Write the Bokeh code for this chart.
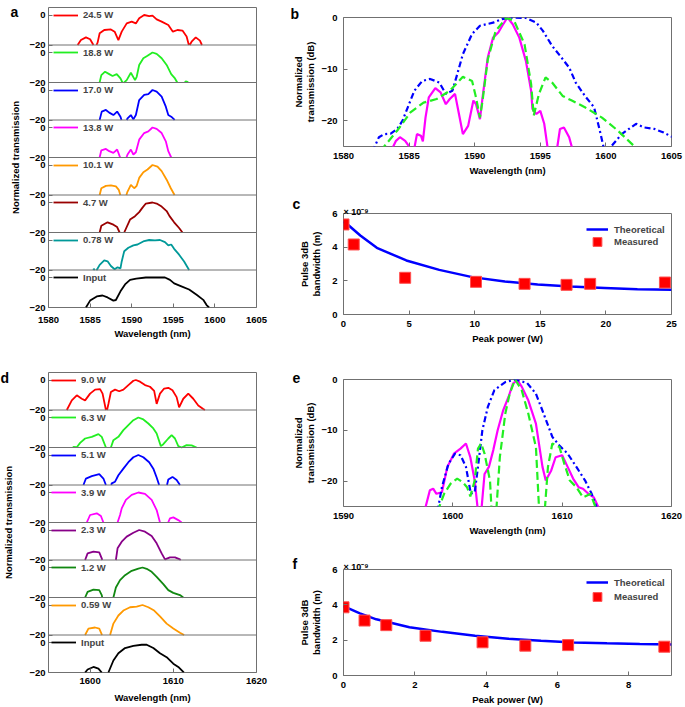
import numpy as np
from bokeh.plotting import figure
from bokeh.models import Range1d, FixedTicker, Span, Legend, LegendItem, Label
from bokeh.layouts import row, column
from bokeh.embed import file_html
from bokeh.resources import INLINE

# ------------------------------------------------------------------ data
# panel a : spectra (wavelength nm, normalized transmission dB), top -> bottom
a_labels = ["24.5 W", "18.8 W", "17.0 W", "13.8 W", "10.1 W", "4.7 W", "0.78 W", "Input"]
a_colors = ["#ff0000", "#22ee22", "#0000ff", "#ff00ff", "#ff9900", "#990000", "#009999", "#000000"]
a1_wl = [1583.3, 1583.5, 1583.9, 1584.5, 1585.0, 1585.4, 1585.65, 1585.9, 1586.15, 1586.7, 1587.5, 1587.95, 1588.4, 1588.8, 1589.4, 1590.0, 1590.5, 1590.9, 1591.5, 1592.1, 1592.5, 1593.0, 1593.6, 1594.4, 1594.95, 1595.5, 1596.1, 1596.6, 1596.9, 1597.2, 1597.7, 1598.2, 1598.5]
a1_db = [-22, -20, -16.7, -14.9, -16.2, -20, -21.5, -18.4, -12.2, -10, -9.6, -11.1, -16.7, -11.1, -5.6, -4.4, -5.6, -2.2, 0, -0.7, -0.4, -2.9, -4.4, -6.7, -11.1, -10, -10.4, -14.4, -20.7, -17.8, -14.9, -17.1, -20.7]
a2_wl = [1586.1, 1586.35, 1586.8, 1587.3, 1587.7, 1588.2, 1588.65, 1588.95, 1589.4, 1589.9, 1590.4, 1590.6, 1590.9, 1591.4, 1591.9, 1592.5, 1593.0, 1593.6, 1594.2, 1594.75, 1595.2, 1595.5, 1595.8, 1596.3, 1596.5, 1596.7, 1596.9]
a2_db = [-21, -15.1, -12.8, -14.4, -15.7, -14.4, -17.3, -20.7, -18.4, -13.5, -18.4, -16.2, -8.3, -3.8, -2.2, 0, -0.9, -3.8, -8.3, -14.4, -17.3, -20.2, -21.5, -20.5, -19.2, -19.5, -21]
a3_wl = [1586.1, 1586.4, 1586.9, 1587.3, 1587.8, 1588.25, 1588.65, 1588.8, 1589.3, 1589.5, 1589.9, 1590.2, 1590.5, 1590.9, 1591.5, 1592.0, 1592.5, 1593.0, 1593.6, 1594.1, 1594.4, 1594.75, 1595.1, 1595.3]
a3_db = [-21, -14.4, -13.3, -15.1, -16.7, -14.4, -17.8, -20.4, -21, -18.9, -16.7, -19.6, -16.7, -6.7, -3.3, -2.7, 0, -1.1, -4.4, -11.1, -16.7, -17.8, -19.6, -21]
a4_wl = [1586.1, 1586.35, 1586.9, 1587.3, 1587.8, 1588.25, 1588.55, 1588.7, 1589.3, 1589.5, 1589.9, 1590.2, 1590.5, 1590.9, 1591.5, 1592.0, 1592.5, 1593.0, 1593.6, 1594.1, 1594.4, 1594.75, 1594.9]
a4_db = [-21, -15.2, -14.3, -15.8, -16.9, -14.7, -19.1, -21, -21, -18.0, -14.7, -18.0, -16.5, -8.1, -3.7, -2.6, 0, -0.9, -3.7, -9.2, -15.8, -20, -21]
a5_wl = [1586.1, 1586.35, 1586.9, 1587.5, 1588.1, 1588.45, 1588.65, 1588.8, 1589.3, 1589.5, 1589.9, 1590.3, 1590.6, 1590.9, 1591.4, 1591.9, 1592.5, 1593.1, 1593.6, 1594.2, 1594.7, 1595.15, 1595.3]
a5_db = [-21, -15.5, -13.9, -13.6, -14.3, -16.6, -20.2, -21, -21, -17.7, -13.2, -15.5, -13.9, -8.6, -4.8, -3.0, 0, -1.1, -4.1, -9.8, -15.5, -20, -21]
a6_wl = [1586.1, 1586.35, 1587.1, 1587.8, 1588.25, 1588.55, 1588.7, 1588.95, 1589.1, 1589.8, 1590.4, 1590.9, 1591.3, 1591.7, 1592.5, 1593.0, 1593.6, 1594.2, 1594.55, 1595.1, 1595.7, 1596.1, 1596.2]
a6_db = [-21, -15.5, -13.2, -14.8, -16.4, -20, -21, -21, -20, -11.4, -9.1, -6.4, -3.4, -0.7, 0, -0.7, -2.7, -5.7, -9.1, -13.2, -17.0, -20, -21]
a7_wl = [1585.3, 1585.45, 1585.65, 1585.85, 1586.15, 1586.7, 1587.1, 1587.5, 1587.95, 1588.3, 1588.65, 1588.8, 1589.1, 1589.6, 1590.2, 1590.7, 1591.5, 1592.1, 1592.8, 1593.4, 1594.0, 1594.4, 1594.75, 1595.1, 1595.7, 1596.3, 1596.9, 1597.0]
a7_db = [-21, -19.3, -20.5, -19.5, -16.6, -13.6, -14.2, -17.3, -19.5, -18.2, -18.9, -14.3, -7.5, -5.2, -3.6, -3.0, -0.7, 0, -0.2, 0, -1.4, -3.6, -3.0, -5.9, -9.8, -14.3, -20, -21]
a8_wl = [1584.4, 1584.5, 1585.0, 1585.8, 1586.5, 1587.1, 1587.8, 1588.1, 1588.65, 1589.2, 1589.8, 1590.55, 1591.7, 1592.85, 1594.0, 1594.6, 1595.1, 1595.9, 1596.9, 1597.8, 1598.6, 1599.0, 1599.3, 1599.4]
a8_db = [-21, -20, -15.4, -12.6, -12, -13.3, -15.4, -15, -9.2, -4.6, -1.6, -0.7, 0, 0, 0, -1.6, -3.9, -5.7, -8.0, -11.5, -14.9, -18.4, -20, -21]
a_ticks = [1580, 1585, 1590, 1595, 1600, 1605]

# panel d
d_labels = ["9.0 W", "6.3 W", "5.1 W", "3.9 W", "2.3 W", "1.2 W", "0.59 W", "Input"]
d_colors = ["#ff0000", "#22ee22", "#0000ff", "#ff00ff", "#880088", "#118811", "#ff9900", "#000000"]
d1_wl = [1597.1, 1597.2, 1597.8, 1598.4, 1599.0, 1599.4, 1600.0, 1600.6, 1601.2, 1601.5, 1601.9, 1602.0, 1602.2, 1602.5, 1603.0, 1603.5, 1604.0, 1604.6, 1605.2, 1605.5, 1606.0, 1606.6, 1607.2, 1607.7, 1608.0, 1608.4, 1608.9, 1609.4, 1609.9, 1610.4, 1610.7, 1611.2, 1611.8, 1612.4, 1613.0, 1613.6, 1613.8]
d1_db = [-21, -20, -13.6, -10.2, -12.5, -13.6, -9.1, -6.4, -6.1, -9.1, -20, -21, -16, -8, -6.4, -7.5, -6.4, -3.4, -0.5, 0, -1.1, -3.4, -4.5, -7.3, -15.9, -9.1, -5.7, -5.2, -6.8, -11.4, -18.2, -12.5, -9.1, -12.5, -17, -19.3, -20]
d2_wl = [1597.9, 1598.0, 1598.4, 1598.8, 1599.4, 1600.2, 1601.0, 1601.4, 1601.9, 1602.0, 1602.4, 1602.5, 1602.8, 1603.4, 1604.0, 1604.6, 1605.2, 1605.8, 1606.4, 1607.0, 1607.6, 1608.0, 1608.5, 1608.8, 1609.4, 1609.8, 1610.2, 1610.6, 1611.0, 1611.6, 1612.2, 1612.8]
d2_db = [-21, -19.6, -19.8, -16.9, -14, -12.9, -11.1, -12.9, -20, -21, -21, -20, -15.1, -12.9, -8.4, -5.1, -1.8, 0, -1.3, -4, -7.3, -10.7, -19.1, -17.8, -14, -11.8, -14, -19.1, -20, -18.4, -18.6, -20]
d3_wl = [1599.1, 1599.2, 1599.5, 1600.2, 1601.1, 1601.6, 1601.9, 1602.0, 1602.5, 1602.6, 1603.0, 1603.4, 1604.0, 1604.6, 1605.2, 1605.8, 1606.4, 1607.1, 1607.6, 1608.0, 1608.3, 1608.4, 1609.2, 1609.4, 1609.9, 1610.4, 1610.8, 1610.9]
d3_db = [-21, -20, -15.7, -14.1, -12.8, -15.7, -20, -21, -21, -18.9, -17.8, -13.5, -9.1, -4.8, -1.5, 0, -1.5, -4.8, -9.1, -15, -20, -21, -21, -16.3, -14.6, -16.7, -20, -21]
d4_wl = [1599.5, 1599.6, 1600.0, 1600.8, 1601.3, 1601.6, 1601.7, 1603.2, 1603.3, 1603.6, 1603.8, 1604.3, 1605.0, 1605.8, 1606.6, 1607.4, 1608.0, 1608.4, 1608.5, 1609.3, 1609.6, 1610.0, 1610.6, 1611.0, 1611.1]
d4_db = [-21, -20, -15, -13.9, -15.7, -20, -21, -21, -20, -15, -10.6, -4.9, -1.6, 0, -0.9, -4.9, -11.7, -20, -21, -21, -17.3, -16.6, -18.4, -20, -21]
d5_wl = [1599.3, 1599.4, 1599.7, 1600.4, 1601.1, 1601.4, 1601.5, 1603.0, 1603.1, 1603.3, 1603.8, 1604.4, 1605.2, 1605.9, 1606.6, 1607.4, 1608.0, 1608.6, 1609.0, 1609.6, 1610.2, 1610.8, 1611.1]
d5_db = [-21, -20, -15.6, -14.4, -14.9, -18.9, -21, -21, -20, -12.2, -7.8, -4.4, -1.8, 0, -1.1, -4, -8.9, -15.6, -19.6, -18.2, -18.2, -19.6, -21]
d6_wl = [1599.3, 1599.4, 1599.7, 1600.4, 1601.1, 1601.4, 1601.5, 1602.7, 1602.8, 1603.1, 1603.6, 1604.2, 1605.0, 1605.8, 1606.3, 1606.8, 1607.4, 1608.0, 1608.8, 1609.4, 1610.0, 1610.8, 1611.2, 1611.3]
d6_db = [-21, -20, -16.2, -14.7, -15.1, -18.4, -21, -21, -20, -13.3, -8.4, -5.1, -2.2, -0.7, 0, -0.9, -2.9, -6.2, -11.1, -15.1, -16.9, -18.4, -20, -21]
d7_wl = [1599.3, 1599.4, 1599.8, 1600.6, 1601.1, 1601.35, 1601.5, 1602.3, 1602.4, 1602.8, 1603.4, 1604.0, 1604.8, 1605.6, 1606.3, 1607.0, 1607.7, 1608.4, 1609.2, 1610.0, 1610.8, 1611.3, 1611.4]
d7_db = [-21, -20, -15.7, -15, -15.7, -18.9, -21, -21, -20, -12.4, -7, -3.7, -1.5, -1.1, 0, -1.5, -3.7, -7.6, -12.4, -15.7, -18.5, -20, -21]
d8_wl = [1599.3, 1599.4, 1599.7, 1600.4, 1601.0, 1601.4, 1601.5, 1602.1, 1602.2, 1602.8, 1603.4, 1604.2, 1605.2, 1606.2, 1606.8, 1607.6, 1608.4, 1609.2, 1610.0, 1610.6, 1611.2, 1611.4]
d8_db = [-21, -20, -18, -16.3, -17.4, -20, -21, -21, -20, -12, -7.2, -3.7, -2.2, -1.5, -1.5, -3.7, -7.2, -9.8, -14.1, -16.3, -19.6, -21]
d_ticks = [1600, 1610, 1620]

# panel b
b_blue_wl = [1582.2, 1582.7, 1583.1, 1583.6, 1584.1, 1584.5, 1584.9, 1585.4, 1586.0, 1586.6, 1587.3, 1587.8, 1588.3, 1588.6, 1589.1, 1589.8, 1590.4, 1591.4, 1592.1, 1592.9, 1593.9, 1594.7, 1595.2, 1595.9, 1596.5, 1597.2, 1597.7, 1598.4, 1599.1, 1599.6, 1599.9, 1600.3, 1600.4, 1601.2, 1602.3, 1602.9, 1603.7, 1604.4, 1605.1]
b_blue_db = [-26, -23.2, -22.6, -22.5, -21.6, -20, -17.4, -14.2, -12.3, -11.9, -12.6, -14.8, -14.2, -11.6, -7.1, -3.2, -1.6, -1.0, -0.3, 0, -0.1, -1.0, -2.6, -5.5, -7.4, -9.7, -12.6, -15.2, -17.4, -22.6, -26, -26, -25, -22.6, -20.6, -21.3, -21.6, -22.3, -23.2]
b_green_wl = [1582.9, 1583.1, 1584.1, 1585.1, 1586.1, 1587.1, 1588.1, 1589.1, 1589.8, 1590.1, 1590.4, 1590.6, 1591.0, 1591.6, 1592.4, 1593.0, 1593.8, 1594.3, 1594.5, 1594.9, 1595.4, 1595.9, 1596.7, 1597.4, 1598.4, 1599.7, 1600.9, 1602.1, 1602.3]
b_green_db = [-26, -25, -21.9, -18.4, -16.5, -15.8, -14.2, -11.5, -12.3, -15.5, -19.4, -16.1, -8.1, -2.6, -0.1, -0.6, -5.2, -12.9, -19.0, -14.8, -11.6, -12.6, -15.2, -16.1, -17.4, -19.4, -21.9, -24.8, -26]
b_mag_wl = [1583.6, 1584.0, 1584.3, 1584.7, 1585.0, 1585.1, 1585.35, 1585.6, 1585.9, 1586.05, 1586.25, 1586.5, 1587.0, 1587.4, 1587.8, 1588.1, 1588.5, 1588.8, 1589.1, 1589.5, 1589.9, 1590.1, 1590.4, 1590.6, 1591.0, 1591.4, 1591.8, 1592.1, 1592.5, 1592.9, 1593.4, 1593.9, 1594.3, 1594.4, 1594.7, 1595.0, 1595.3, 1595.6, 1596.2, 1596.3, 1596.5, 1596.8, 1597.2, 1597.5]
b_mag_db = [-26, -23.9, -23.2, -23.9, -25, -26, -26, -22.6, -22.9, -24, -19.4, -15.5, -13.7, -14.5, -16.8, -15.8, -14.8, -18.7, -22.6, -21, -16.1, -16.8, -19.7, -15.5, -7.7, -3.9, -2.9, -1.6, 0, -1.3, -3.9, -8.4, -14.2, -17.7, -18.7, -18.1, -20.6, -26, -26, -25, -21.6, -21.3, -23.2, -26]
b_xticks = [1580, 1585, 1590, 1595, 1600, 1605]

# panel e
e_blue_wl = [1598.6, 1599.0, 1599.6, 1600.2, 1600.7, 1601.2, 1601.65, 1602.0, 1602.3, 1602.7, 1603.2, 1603.8, 1604.8, 1605.7, 1606.8, 1607.6, 1608.3, 1609.1, 1609.75, 1610.5, 1611.3, 1612.1, 1612.7, 1613.3]
e_blue_db = [-26, -21.2, -16.6, -14.6, -14.9, -17.2, -22.5, -22.2, -17.2, -10, -5.4, -2.1, -0.5, 0, -0.7, -2.8, -6.7, -11.3, -13, -14.6, -17.2, -19.9, -22.5, -26]
e_green_wl = [1598.6, 1599.2, 1599.8, 1600.4, 1600.9, 1601.3, 1601.6, 1602.0, 1602.3, 1602.6, 1602.9, 1603.4, 1603.55, 1603.9, 1604.0, 1604.3, 1604.8, 1605.2, 1605.7, 1606.3, 1606.9, 1607.6, 1607.9, 1608.4, 1608.7, 1609.1, 1609.75, 1610.2, 1610.7, 1611.3, 1611.9, 1612.6, 1613.2]
e_green_db = [-26, -22.5, -20.5, -19.5, -20.2, -21.2, -23, -19.9, -13.6, -12.6, -14.6, -19.9, -26, -26, -25, -15.3, -6.7, -2.8, 0, -2.1, -6.7, -13.3, -26, -26, -17.2, -12.6, -13.3, -16.6, -19.9, -21.2, -23.2, -22.5, -26]
e_mag_wl = [1597.4, 1597.9, 1598.2, 1598.5, 1599.0, 1599.5, 1600.1, 1600.7, 1601.2, 1601.6, 1602.0, 1602.3, 1602.6, 1602.9, 1603.3, 1603.7, 1604.1, 1604.6, 1605.1, 1605.5, 1605.9, 1606.3, 1606.9, 1607.6, 1608.2, 1608.5, 1609.0, 1609.4, 1610.0, 1610.5, 1611.0, 1611.5, 1611.9, 1612.4, 1612.9, 1613.5]
e_mag_db = [-26, -21.8, -21.5, -22.5, -22.2, -17.2, -14.6, -13.6, -12.6, -15.3, -19.9, -26, -26, -18.6, -17.2, -13.9, -10, -6.1, -3.4, -0.8, -0.1, -1.4, -4.1, -8.7, -17.2, -19.9, -17.9, -15.3, -14.9, -17.2, -19.5, -21.2, -21.5, -22.5, -23.2, -26]
e_xticks = [1590, 1600, 1610, 1620]
spec_yticks = [-20, -10, 0]

# panel c (bandwidth in units of 1e-9 m)
c_power = [0, 0.78, 4.7, 10.1, 13.8, 17.0, 18.8, 24.5]
c_bw = [5.35, 4.16, 2.18, 1.94, 1.82, 1.76, 1.82, 1.90]
c_th_p = [0, 0.25, 1.28, 2.54, 4.79, 7.3, 9.81, 12.3, 14.8, 17.3, 19.9, 22.4, 25]
c_th_bw = [5.5, 5.39, 4.69, 3.96, 3.21, 2.65, 2.22, 1.96, 1.78, 1.66, 1.58, 1.50, 1.47]
c_xticks = [0, 5, 10, 15, 20, 25]

# panel f
f_power = [0, 0.59, 1.2, 2.3, 3.9, 5.1, 6.3, 9.0]
f_bw = [3.86, 3.11, 2.85, 2.25, 1.88, 1.69, 1.72, 1.63]
f_th_p = [0, 0.46, 0.92, 1.85, 2.77, 3.69, 4.62, 5.54, 6.46, 7.39, 8.31, 9.2]
f_th_bw = [3.93, 3.52, 3.18, 2.73, 2.47, 2.25, 2.08, 1.97, 1.87, 1.82, 1.78, 1.76]
f_xticks = [0, 2, 4, 6, 8]
bw_yticks = [0, 2, 4, 6]

# ------------------------------------------------------------------ style
FONT = "Liberation Sans"
FS = "9.5px"
AX = "#707070"
MINUS = "\u2212"


def clip_floor(xs, ys, floor=-20.0):
    ox, oy = [], []
    for i in range(len(xs)):
        x, y = xs[i], ys[i]
        if i > 0:
            x0, y0 = xs[i - 1], ys[i - 1]
            if (y0 < floor) != (y < floor):
                t = (floor - y0) / (y - y0)
                ox.append(x0 + t * (x - x0))
                oy.append(floor)
                if y < floor:
                    ox.append(np.nan)
                    oy.append(np.nan)
        if y >= floor:
            ox.append(x)
            oy.append(y)
    return np.array(ox, dtype=float), np.array(oy, dtype=float)


def style_axis(ax, standoff=4, lab_standoff=2):
    ax.axis_line_color = None
    ax.major_tick_in = 4
    ax.major_tick_out = 0
    ax.major_tick_line_color = AX
    ax.minor_tick_line_color = None
    ax.major_label_standoff = standoff
    ax.major_label_text_font = FONT
    ax.major_label_text_font_size = FS
    ax.major_label_text_font_style = "bold"
    ax.major_label_text_color = "black"
    ax.axis_label_standoff = lab_standoff
    ax.axis_label_text_font = FONT
    ax.axis_label_text_font_size = FS
    ax.axis_label_text_font_style = "bold"
    ax.axis_label_text_color = "black"
    ax.axis_label_text_line_height = 1.1


def base_fig(w, h, xr, yr, ml, mr, mt, mb):
    p = figure(width=w, height=h, x_range=xr, y_range=yr, output_backend="svg",
               toolbar_location=None, min_border_left=ml, min_border_right=mr,
               min_border_top=mt, min_border_bottom=mb)
    p.grid.visible = False
    p.outline_line_color = AX
    p.outline_line_width = 1
    p.background_fill_color = "white"
    p.border_fill_color = "white"
    return p


def text_label(p, side, text, x, y, dx, dy, size="14px"):
    # label kept in a side panel (not clipped to the frame), positioned from a data anchor
    p.add_layout(Label(x=x, y=y, x_offset=dx, y_offset=dy, text=text,
                       text_font=FONT, text_font_size=size, text_font_style="bold",
                       text_baseline="alphabetic", text_align="left", text_color="black"), side)


def stack_panel(w, h, ml, mr, mt, mb, xr, xticks, labels, colors, curves, leg_x,
                lab_standoff, tick_standoff, title_standoff):
    n = len(labels)
    frame_h = h - mt - mb
    p = base_fig(w, h, Range1d(*xr), Range1d(-20, -20 + 25 * n), ml, mr, mt, mb)
    ticks, over = [], {}
    for k in range(n):
        ticks += [-20 + 25 * k, 25 * k]
        over[-20 + 25 * k] = MINUS + "20"
        over[25 * k] = "0"
    p.yaxis.ticker = FixedTicker(ticks=ticks)
    p.yaxis.major_label_overrides = over
    p.xaxis.ticker = FixedTicker(ticks=xticks)
    style_axis(p.yaxis[0], standoff=3, lab_standoff=lab_standoff)
    style_axis(p.xaxis[0], standoff=tick_standoff, lab_standoff=title_standoff)
    p.yaxis.axis_label = "Normalized transmission"
    p.xaxis.axis_label = "Wavelength (nm)"
    p.extra_y_ranges = {f"s{k}": Range1d(-20 - 25 * k, -20 + 25 * n - 25 * k) for k in range(n)}
    for k in range(1, n):
        p.add_layout(Span(location=-20 + 25 * k, dimension="width", line_color=AX, line_width=1))
    for i in range(n):
        k = n - 1 - i
        wl, db = curves[i]
        cx, cy = clip_floor(wl, db)
        r = p.line(cx, cy, y_range_name=f"s{k}", line_color=colors[i], line_width=1.8)
        y0 = frame_h * (20 + 25 * k) / (25 * n)
        leg = Legend(items=[LegendItem(label=labels[i], renderers=[r])], location=(leg_x, y0 - 6),
                     border_line_color=None, background_fill_alpha=0, padding=0, margin=0,
                     spacing=0, glyph_width=25, glyph_height=12, label_height=12,
                     label_standoff=5, label_text_font=FONT, label_text_font_size=FS,
                     label_text_font_style="bold")
        p.add_layout(leg)
    return p


def spec_panel(w, h, ml, mr, mt, mb, xr, xticks, blue, green, mag):
    p = base_fig(w, h, Range1d(*xr), Range1d(-25, 0), ml, mr, mt, mb)
    p.xaxis.ticker = FixedTicker(ticks=xticks)
    p.yaxis.ticker = FixedTicker(ticks=spec_yticks)
    p.yaxis.major_label_overrides = {-20: MINUS + "20", -10: MINUS + "10", 0: "0"}
    style_axis(p.xaxis[0], standoff=6, lab_standoff=3)
    style_axis(p.yaxis[0], standoff=6, lab_standoff=2)
    p.xaxis.axis_label = "Wavelength (nm)"
    p.yaxis.axis_label = "Normalized\ntransmission (dB)"
    p.line(mag[0], mag[1], line_color="#ff00ff", line_width=2.2)
    p.line(blue[0], blue[1], line_color="#0000ff", line_width=2.2, line_dash="6 3 2 3")
    p.line(green[0], green[1], line_color="#22ee22", line_width=2.2, line_dash="8 4")
    return p


def bw_panel(w, h, ml, mr, mt, mb, xr, xticks, th, meas, leg_x, leg_y1, leg_y2, exp_dy):
    p = base_fig(w, h, Range1d(*xr), Range1d(0, 6), ml, mr, mt, mb)
    p.xaxis.ticker = FixedTicker(ticks=xticks)
    p.yaxis.ticker = FixedTicker(ticks=bw_yticks)
    style_axis(p.xaxis[0], standoff=6, lab_standoff=3)
    style_axis(p.yaxis[0], standoff=6, lab_standoff=7)
    p.xaxis.axis_label = "Peak power (W)"
    p.yaxis.axis_label = "Pulse 3dB\nbandwidth (m)"
    r1 = p.line(th[0], th[1], line_color="#0000ff", line_width=2.5)
    r2 = p.scatter(meas[0], meas[1], marker="square", size=11, fill_color="#ff0000",
                   line_color="#ff5050", line_width=1)
    common = dict(border_line_color=None, background_fill_alpha=0, padding=0, margin=0,
                  spacing=0, glyph_width=22, label_standoff=6, label_text_font=FONT,
                  label_text_font_size=FS, label_text_font_style="bold")
    p.add_layout(Legend(items=[LegendItem(label="Theoretical", renderers=[r1])],
                        location=(leg_x, leg_y1 - 6), glyph_height=12, label_height=12, **common))
    p.add_layout(Legend(items=[LegendItem(label="Measured", renderers=[r2])],
                        location=(leg_x, leg_y2 - 12.5), glyph_height=25, label_height=25, **common))
    text_label(p, "above", "\u00d7 10\u207b\u2079", xr[0], 6, 0, exp_dy, size="9px")
    return p


# ------------------------------------------------------------------ build
a_curves = [(a1_wl, a1_db), (a2_wl, a2_db), (a3_wl, a3_db), (a4_wl, a4_db),
            (a5_wl, a5_db), (a6_wl, a6_db), (a7_wl, a7_db), (a8_wl, a8_db)]
d_curves = [(d1_wl, d1_db), (d2_wl, d2_db), (d3_wl, d3_db), (d4_wl, d4_db),
            (d5_wl, d5_db), (d6_wl, d6_db), (d7_wl, d7_db), (d8_wl, d8_db)]

fa = stack_panel(290, 346, 38, 34, 7, 39, (1580, 1605), a_ticks, a_labels, a_colors, a_curves,
                 5, lab_standoff=5, tick_standoff=9, title_standoff=2)
text_label(fa, "right", "a", 1580, 180, -38, -4)
fd = stack_panel(290, 361, 48, 34, 26, 35, (1595, 1620), d_ticks, d_labels, d_colors, d_curves,
                 3, lab_standoff=12, tick_standoff=5, title_standoff=5)
text_label(fd, "right", "d", 1595, 180, -48, -5)

RW = 395
MR = 14
fb = spec_panel(RW, 180, 53, MR, 17, 34, (1580, 1605), b_xticks,
                (b_blue_wl, b_blue_db), (b_green_wl, b_green_db), (b_mag_wl, b_mag_db))
text_label(fb, "above", "b", 1580, 0, -53, 4)
fc = bw_panel(RW, 168, 53, MR, 33, 34, (0, 25), c_xticks, (c_th_p, c_th_bw), (c_power, c_bw),
              243, 85, 73, 2)
text_label(fc, "above", "c", 0, 6, -51, 10)
fe = spec_panel(RW, 191, 53, MR, 31, 33, (1590, 1620), e_xticks,
                (e_blue_wl, e_blue_db), (e_green_wl, e_green_db), (e_mag_wl, e_mag_db))
text_label(fe, "above", "e", 1590, 0, -51, 2)
ff = bw_panel(RW, 168, 53, MR, 30, 31, (0, 9.2), f_xticks, (f_th_p, f_th_bw), (f_power, f_bw),
              243, 93, 79, 3)
text_label(ff, "above", "f", 0, 6, -51, 6)

layout = row(column(fa, fd), column(fb, fc, fe, ff))
open("out.html", "w").write(file_html(layout, INLINE))
